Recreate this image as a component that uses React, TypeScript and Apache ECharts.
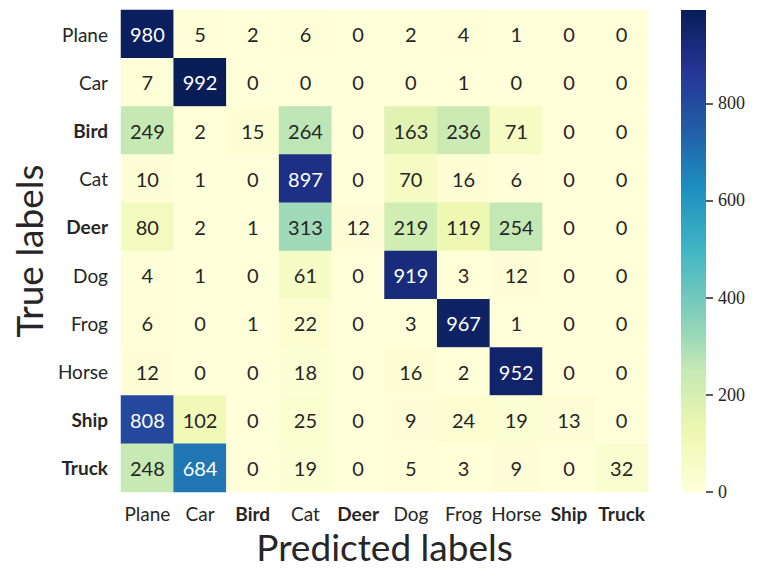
import React, { useEffect, useRef } from "react";
import * as echarts from "echarts";

const categories = ["Plane", "Car", "Bird", "Cat", "Deer", "Dog", "Frog", "Horse", "Ship", "Truck"];
const boldCategories = ["Bird", "Deer", "Ship", "Truck"];

const rowPlane = [980, 5, 2, 6, 0, 2, 4, 1, 0, 0];
const rowCar = [7, 992, 0, 0, 0, 0, 1, 0, 0, 0];
const rowBird = [249, 2, 15, 264, 0, 163, 236, 71, 0, 0];
const rowCat = [10, 1, 0, 897, 0, 70, 16, 6, 0, 0];
const rowDeer = [80, 2, 1, 313, 12, 219, 119, 254, 0, 0];
const rowDog = [4, 1, 0, 61, 0, 919, 3, 12, 0, 0];
const rowFrog = [6, 0, 1, 22, 0, 3, 967, 1, 0, 0];
const rowHorse = [12, 0, 0, 18, 0, 16, 2, 952, 0, 0];
const rowShip = [808, 102, 0, 25, 0, 9, 24, 19, 13, 0];
const rowTruck = [248, 684, 0, 19, 0, 5, 3, 9, 0, 32];

const matrix = [rowPlane, rowCar, rowBird, rowCat, rowDeer, rowDog, rowFrog, rowHorse, rowShip, rowTruck];

const colorbarTicks = [0, 200, 400, 600, 800];

const YlGnBu = ["#ffffd9", "#edf8b1", "#c7e9b4", "#7fcdbb", "#41b6c4", "#1d91c0", "#225ea8", "#253494", "#081d58"];

const SANS = "Lato, 'Open Sans', sans-serif";
const SERIF = "'Liberation Serif', 'DejaVu Serif', serif";
const TEXT = "#262626";

export default function App() {
  const ref = useRef<HTMLDivElement>(null);
  useEffect(() => {
    if (!ref.current) return;
    const chart = echarts.init(ref.current, undefined, { renderer: "svg" });
    const vmax = Math.max(...matrix.flat());
    const data: any[] = [];
    matrix.forEach((row, yi) =>
      row.forEach((v, xi) => {
        data.push({
          value: [xi, yi, v],
          label: { color: v > 500 ? "#ffffff" : TEXT },
        });
      })
    );
    const labelFmt = (s: string) => (boldCategories.includes(s) ? `{b|${s}}` : `{n|${s}}`);
    const rich = {
      b: { fontFamily: SANS, fontSize: 19, fontWeight: "bold", color: TEXT },
      n: { fontFamily: SANS, fontSize: 19, color: TEXT },
    };
    const gridTop = 10;
    const gridH = 482;
    chart.setOption({
      animation: false,
      backgroundColor: "#ffffff",
      grid: [
        { left: 121, top: gridTop, width: 527, height: gridH, containLabel: false },
        { left: 681, top: gridTop, width: 25, height: gridH, containLabel: false },
      ],
      xAxis: [
        {
          type: "category",
          gridIndex: 0,
          data: categories,
          position: "bottom",
          axisLine: { show: false },
          axisTick: { show: false },
          splitLine: { show: false },
          axisLabel: { formatter: labelFmt, rich, margin: 12, interval: 0 },
          name: "Predicted labels",
          nameLocation: "middle",
          nameGap: 34,
          nameTextStyle: { fontFamily: SANS, fontSize: 37, color: TEXT },
        },
        {
          type: "value",
          gridIndex: 1,
          show: false,
          min: 0,
          max: 1,
        },
      ],
      yAxis: [
        {
          type: "category",
          gridIndex: 0,
          data: categories,
          inverse: true,
          axisLine: { show: false },
          axisTick: { show: false },
          splitLine: { show: false },
          axisLabel: { formatter: labelFmt, rich, margin: 13, interval: 0 },
          name: "True labels",
          nameLocation: "middle",
          nameGap: 72,
          nameRotate: 90,
          nameTextStyle: { fontFamily: SANS, fontSize: 37, color: TEXT },
        },
        {
          type: "value",
          gridIndex: 1,
          position: "right",
          min: 0,
          max: vmax,
          interval: 200,
          z: 10,
          axisLine: { show: false, onZero: false },
          axisTick: {
            show: true,
            inside: false,
            length: 7,
            customValues: colorbarTicks,
            lineStyle: { color: TEXT, width: 1.5 },
          },
          splitLine: { show: false },
          axisLabel: {
            show: true,
            margin: 12,
            fontFamily: SERIF,
            fontSize: 18,
            color: TEXT,
            customValues: colorbarTicks,
            formatter: (v: number) => (colorbarTicks.includes(v) ? String(v) : ""),
          },
        },
      ],
      visualMap: {
        show: false,
        seriesIndex: 0,
        min: 0,
        max: vmax,
        inRange: { color: YlGnBu },
      },
      series: [
        {
          type: "heatmap",
          xAxisIndex: 0,
          yAxisIndex: 0,
          data,
          label: { show: true, fontFamily: SANS, fontSize: 20, formatter: (p: any) => String(p.value[2]) },
          itemStyle: { borderWidth: 0 },
          emphasis: { disabled: true },
        },
        {
          type: "custom",
          xAxisIndex: 1,
          yAxisIndex: 1,
          data: [[0, vmax]],
          renderItem: (params: any, api: any) => {
            const top = api.coord([0, vmax]);
            const bottom = api.coord([1, 0]);
            return {
              type: "rect",
              shape: { x: top[0], y: top[1], width: bottom[0] - top[0], height: bottom[1] - top[1] },
              style: {
                fill: new echarts.graphic.LinearGradient(
                  0,
                  1,
                  0,
                  0,
                  YlGnBu.map((c, i) => ({ offset: i / (YlGnBu.length - 1), color: c }))
                ),
              },
            };
          },
          silent: true,
          z: -1,
        },
      ],
    });
    return () => chart.dispose();
  }, []);
  return (
    <div
      ref={ref}
      style={{ position: "absolute", left: 0, top: 0, width: 761, height: 578 }}
    />
  );
}
